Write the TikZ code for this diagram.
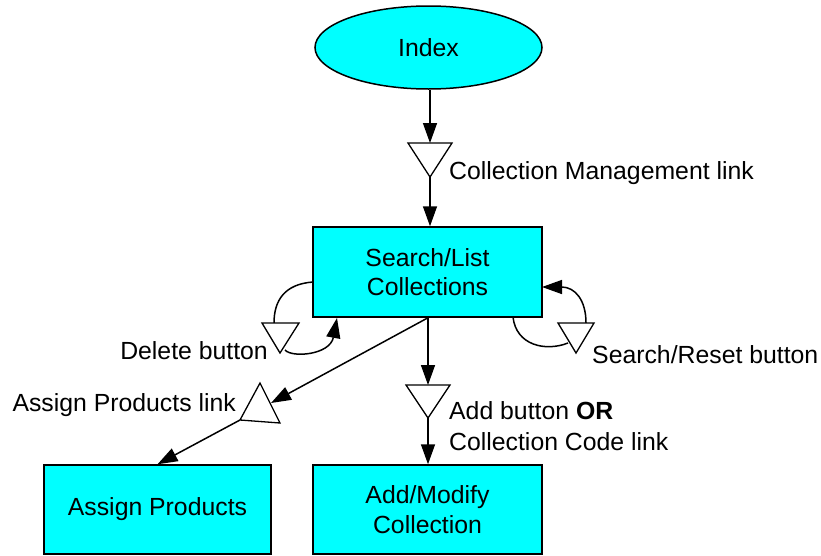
\documentclass[tikz,border=0pt]{standalone}
\usepackage{fontspec}
\setmainfont{Liberation Sans}
\usetikzlibrary{arrows.meta,shapes.geometric}
\definecolor{boxcyan}{RGB}{0,255,255}
\tikzset{
  box/.style={draw=black, line width=1.5pt, fill=boxcyan, align=center, inner sep=0pt},
  conn/.style={draw=black, line width=1.5pt, -{Triangle[length=20pt,width=14pt]}},
  plain/.style={draw=black, line width=1.5pt},
  marker/.style={draw=black, line width=1.3pt, fill=white, line join=miter},
  lbl/.style={inner sep=0pt},
}
\begin{document}
\begin{tikzpicture}[x=1pt,y=-1pt, every node/.style={font=\fontsize{24.8}{29.5}\selectfont}]
\useasboundingbox (0,0) rectangle (821,555);
% nodes
\node[box, ellipse, minimum width=227pt, minimum height=83pt] (index) at (428.5,47.5) {Index};
\node[box, minimum width=229pt, minimum height=90pt] (search) at (427.5,272) {Search/List\\Collections};
\node[box, minimum width=227pt, minimum height=89pt] (assign) at (157.5,509.5) {\raisebox{-3pt}{Assign Products}};
\node[box, minimum width=229pt, minimum height=89pt] (addmod) at (427.5,509.5) {Add/Modify\\Collection};
% marker triangles (coordinates)
\coordinate (t1a) at (408,143); \coordinate (t1b) at (452,143); \coordinate (t1c) at (430,177);
\coordinate (t1top) at (430,143);
\coordinate (t2a) at (262,323); \coordinate (t2b) at (299,323); \coordinate (t2c) at (280,353);
\coordinate (t3a) at (558,323); \coordinate (t3b) at (594,323); \coordinate (t3c) at (576,353);
\coordinate (t4a) at (260,383); \coordinate (t4b) at (240,420); \coordinate (t4c) at (280,423);
\coordinate (t4mid) at (271,403);
\coordinate (t5a) at (406,385); \coordinate (t5b) at (450,385); \coordinate (t5c) at (428,418);
\coordinate (t5top) at (428,385);
% connectors
\draw[conn] (index.south -| t1top) -- (t1top);
\draw[conn] (t1c) -- (t1c |- search.north);
\draw[conn] (search.south -| t5top) -- (t5top);
\draw[conn] (t5c) -- (t5c |- addmod.north);
\draw[conn] (search.south -| t5top) -- (t4mid);
\draw[conn] (t4b) -- (assign.north);
% delete loop
\coordinate (dstart) at (313,282);
\coordinate (dtop) at (274,323);
\coordinate (dend) at (285,350);
\coordinate (dtip) at (337,318);
\draw[plain] (dstart) .. controls (285,284) and (274,300) .. (dtop);
\draw[conn] (dend) .. controls (292,358) and (330,355) .. (dtip);
% search/reset loop
\coordinate (sstart) at (513,317);
\coordinate (send) at (568,343);
\coordinate (stop) at (586,323);
\coordinate (stip) at (542,287);
\draw[plain] (sstart) .. controls (516,345) and (545,352) .. (send);
\draw[conn] (stop) .. controls (586,300) and (575,287) .. (stip);
% triangles
\draw[marker] (t1a) -- (t1b) -- (t1c) -- cycle;
\draw[marker] (t2a) -- (t2b) -- (t2c) -- cycle;
\draw[marker] (t3a) -- (t3b) -- (t3c) -- cycle;
\draw[marker] (t4a) -- (t4b) -- (t4c) -- cycle;
\draw[marker] (t5a) -- (t5b) -- (t5c) -- cycle;
% labels
\node[lbl, anchor=west] (l1) at (449,173) {Collection Management link};
\node[lbl, anchor=east] (l2) at (268,351) {Delete button};
\node[lbl, anchor=west] (l3) at (592,355) {Search/Reset button};
\node[lbl, anchor=east] (l4) at (236,405) {Assign Products link};
\node[lbl, anchor=west] (l5) at (449,411) {Add button \textbf{OR}};
\node[lbl, anchor=west] (l6) at (449,442) {Collection Code link};
\end{tikzpicture}
\end{document}
